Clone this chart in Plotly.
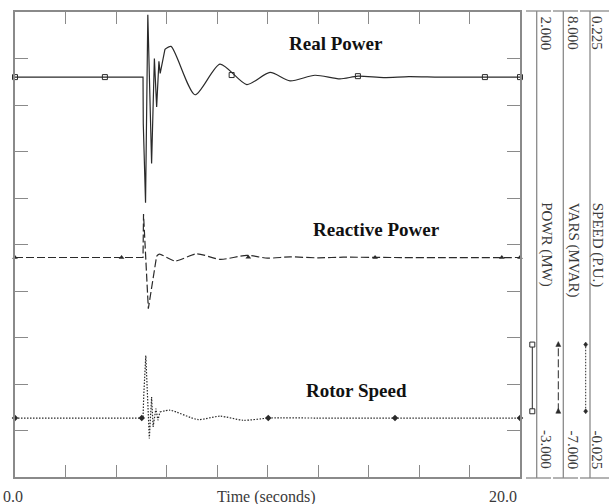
import plotly.graph_objects as go

# ---- data ----
t_real = [0, 3.56, 5.07, 5.08, 5.17, 5.26, 5.41, 5.52, 5.61, 5.70, 5.75, 5.94, 6.18,
          7.13, 8.12, 9.18, 10.10, 10.89, 11.88, 12.87, 13.58, 14.6, 15.6, 16.8, 18.0, 20.0]
p_real = [1.30, 1.30, 1.30, 0.80, -0.05, 1.97, 0.37, 1.50, 0.98, 1.47, 1.34, 1.60, 1.63,
          1.11, 1.44, 1.22, 1.35, 1.26, 1.32, 1.28, 1.31, 1.295, 1.305, 1.30, 1.30, 1.30]
real_split = 11  # index where smooth recovery begins

t_vars = [0, 5.07, 5.09, 5.28, 5.61, 5.72, 6.34, 7.20, 8.12, 9.18, 10.0, 10.9, 12.0, 13.0, 15.0, 20.0]
q_vars = [0.08, 0.08, 1.48, -1.57, 0.13, 0.19, -0.03, 0.20, 0.02, 0.15, 0.06, 0.10, 0.07, 0.09, 0.08, 0.08]
vars_split = 4

t_speed = [0, 5.07, 5.10, 5.18, 5.32, 5.41, 5.47, 5.58, 5.66, 5.74, 6.14, 7.25, 8.12, 9.04, 10.1, 12.0, 20.0]
s_speed = [0.0067, 0.0067, 0.019, 0.0403, -0.0043, 0.018, 0.0019, 0.0118, 0.0055, 0.0100, 0.0109,
           0.0059, 0.0077, 0.0055, 0.0067, 0.0067, 0.0067]
speed_split = 9

mk_t_real = [0, 3.56, 8.58, 13.58, 18.61, 20.0]
mk_p_real = [1.30, 1.30, 1.322, 1.31, 1.30, 1.30]
mk_t_vars = [0, 4.22, 9.24, 14.26, 19.28, 20.0]
mk_q_vars = [0.08, 0.08, 0.09, 0.08, 0.08, 0.08]
mk_t_speed = [0, 5.02, 10.03, 15.05, 20.0]
mk_s_speed = [0.0067, 0.0067, 0.0067, 0.0067, 0.0067]

x_range = [0, 20]
powr_range = [-3, 2]
vars_range = [-7, 8]
speed_range = [-0.025, 0.225]
scale_top = ["2.000", "8.000", "0.225"]
scale_bottom = ["-3.000", "-7.000", "-0.025"]
scale_names = ["POWR (MW)", "VARS (MVAR)", "SPEED (P.U.)"]
curve_labels = ["Real Power", "Reactive Power", "Rotor Speed"]

LC = "#2a2a2a"
GRAY = "#8a8a8a"
TXT = "#3a3a3a"
DASH = "8px,3px"
DOT = "1.5px,1.5px"

fig = go.Figure()


def add_curve(t, v, split, axis, dash):
    fig.add_trace(go.Scatter(x=t[:split + 1], y=v[:split + 1], mode="lines", yaxis=axis, hoverinfo="skip",
                             line=dict(color=LC, width=1.2, dash=dash, shape="linear")))
    fig.add_trace(go.Scatter(x=t[split:], y=v[split:], mode="lines", yaxis=axis, hoverinfo="skip",
                             line=dict(color=LC, width=1.2, dash=dash, shape="spline", smoothing=0.7)))


add_curve(t_real, p_real, real_split, "y", "solid")
add_curve(t_vars, q_vars, vars_split, "y2", DASH)
add_curve(t_speed, s_speed, speed_split, "y3", DOT)

fig.add_trace(go.Scatter(x=mk_t_real, y=mk_p_real, mode="markers", cliponaxis=False, yaxis="y",
                         marker=dict(symbol="square-open", size=5, color=LC, line=dict(width=1))))
fig.add_trace(go.Scatter(x=mk_t_vars, y=mk_q_vars, mode="markers", cliponaxis=False, yaxis="y2",
                         marker=dict(symbol="triangle-up", size=5, color=LC)))
fig.add_trace(go.Scatter(x=mk_t_speed, y=mk_s_speed, mode="markers", cliponaxis=False, yaxis="y3",
                         marker=dict(symbol="diamond", size=5, color=LC)))

W, H = 609, 504
L, R, T, B = 15, 89, 10, 27
pw = W - L - R
ph = H - T - B


def px_x(px):
    return (px - L) / pw


def px_y(py):
    return (H - B - py) / ph


shapes = []
annotations = []
cols = [536.7, 563.3, 590.0]
samples = [532.3, 558.3, 585.7]
text_x = [546.5, 573.0, 597.0]
dashes = ["solid", DASH, DOT]
for i in range(3):
    shapes.append(dict(type="line", xref="paper", yref="paper", x0=px_x(cols[i]), x1=px_x(cols[i]),
                       y0=px_y(478), y1=px_y(9), line=dict(color=GRAY, width=1.3)))
    seg = [(526, 551), (553, 578), (580, 609)][i]
    for yy in (9, 478):
        shapes.append(dict(type="line", xref="paper", yref="paper", x0=px_x(seg[0]), x1=px_x(seg[1]),
                           y0=px_y(yy), y1=px_y(yy), line=dict(color=GRAY, width=1.3)))
    shapes.append(dict(type="line", xref="paper", yref="paper", x0=px_x(samples[i]), x1=px_x(samples[i]),
                       y0=px_y(411), y1=px_y(344), line=dict(color=LC, width=1, dash=dashes[i])))
    for yy in (344, 411):
        cx, cy = samples[i], yy
        if i == 0:
            shapes.append(dict(type="rect", xref="paper", yref="paper", x0=px_x(cx - 2.5), x1=px_x(cx + 2.5),
                               y0=px_y(cy + 2.5), y1=px_y(cy - 2.5), line=dict(color=LC, width=1),
                               fillcolor="white"))
        elif i == 1:
            path = "M {} {} L {} {} L {} {} Z".format(px_x(cx), px_y(cy - 3), px_x(cx - 2.5), px_y(cy + 2),
                                                      px_x(cx + 2.5), px_y(cy + 2))
            shapes.append(dict(type="path", xref="paper", yref="paper", path=path,
                               line=dict(color=LC, width=0.5), fillcolor=LC))
        else:
            path = "M {} {} L {} {} L {} {} L {} {} Z".format(px_x(cx), px_y(cy - 2.5), px_x(cx + 2),
                                                              px_y(cy), px_x(cx), px_y(cy + 2.5),
                                                              px_x(cx - 2), px_y(cy))
            shapes.append(dict(type="path", xref="paper", yref="paper", path=path,
                               line=dict(color=LC, width=0.5), fillcolor=LC))
    for txt, yy, anc in [(scale_top[i], 12, "top"), (scale_bottom[i], 471, "bottom"), (scale_names[i], 199, "top")]:
        annotations.append(dict(text=txt, xref="paper", yref="paper", x=px_x(text_x[i]), y=px_y(yy),
                                xanchor="center", yanchor=anc, textangle=90, showarrow=False,
                                font=dict(family="Liberation Serif", size=15, color=TXT)))

label_pos = [(336, 42), (376, 228), (356, 390)]
for lab, (lx, ly) in zip(curve_labels, label_pos):
    annotations.append(dict(text="<b>" + lab + "</b>", xref="paper", yref="paper", x=px_x(lx), y=px_y(ly),
                            xanchor="center", yanchor="middle", showarrow=False,
                            font=dict(family="Liberation Serif", size=19, color="#111")))

for txt, lx in [("0.0", 13), ("Time (seconds)", 266), ("20.0", 503)]:
    annotations.append(dict(text=txt, xref="paper", yref="paper", x=px_x(lx), y=px_y(497),
                            xanchor="center", yanchor="middle", showarrow=False,
                            font=dict(family="Liberation Serif", size=16, color=TXT)))

axis_common = dict(showgrid=False, zeroline=False, showticklabels=False)
fig.update_layout(
    width=W, height=H, margin=dict(l=L, r=R, t=T, b=B, pad=0),
    paper_bgcolor="white", plot_bgcolor="white", showlegend=False,
    xaxis=dict(range=x_range, dtick=2, tick0=0, ticks="inside", ticklen=12, tickwidth=1.3,
               tickcolor=GRAY, showline=True, linecolor=GRAY, linewidth=1.5, mirror="ticks", **axis_common),
    yaxis=dict(range=powr_range, dtick=0.5, tick0=-3, ticks="inside", ticklen=13, tickwidth=1.3,
               tickcolor=GRAY, showline=True, linecolor=GRAY, linewidth=1.5, mirror="ticks", **axis_common),
    yaxis2=dict(range=vars_range, overlaying="y", visible=False),
    yaxis3=dict(range=speed_range, overlaying="y", visible=False),
    shapes=shapes, annotations=annotations,
)
fig.write_html("out.html")
